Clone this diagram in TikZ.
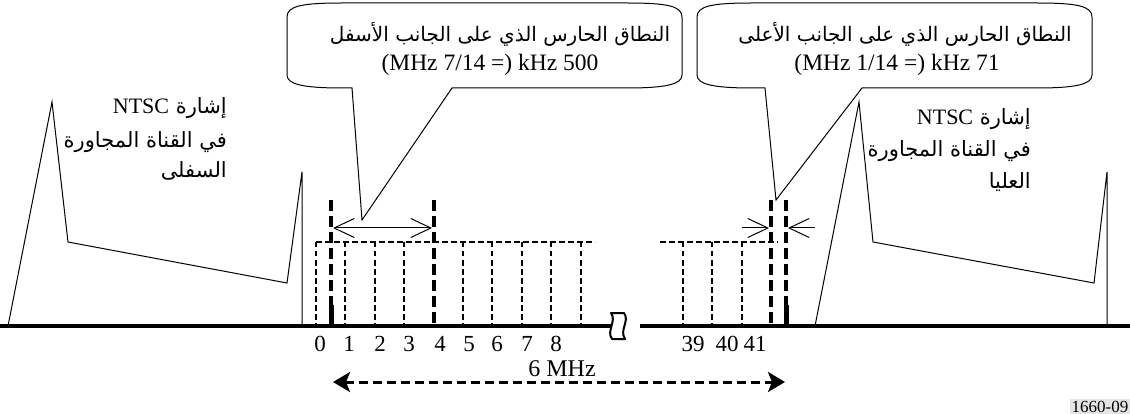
\documentclass[tikz,border=0pt]{standalone}
\usepackage{fontspec}
\setmainfont{Liberation Serif}
\newfontfamily\arabicfont[Script=Arabic]{DejaVu Sans}
\TeXXeTstate=1
\usetikzlibrary{arrows.meta}
\begin{document}
\begin{tikzpicture}[x=1pt,y=-1pt,
  thinline/.style={line width=1pt, line join=miter},
  boxdash/.style={line width=1.2pt, dash pattern=on 5.5pt off 3.5pt},
  guarddash/.style={line width=4pt, dash pattern=on 11pt off 5pt},
  axisline/.style={line width=4pt},
  num/.style={font=\fontsize{23}{26}\selectfont, anchor=base, inner sep=0pt},
  lat/.style={font=\fontsize{23.5}{26}\selectfont, anchor=base, inner sep=0pt},
  artext/.style={font=\arabicfont\fontsize{21}{24}\selectfont, anchor=base east, inner sep=0pt},
  arcall/.style={font=\arabicfont\fontsize{20}{24}\selectfont, anchor=base, inner sep=0pt},
  callout/.style={line width=1pt, fill=white, line join=miter},
  barb/.style={line width=1pt, {Straight Barb[length=20pt,width=19pt]}-{Straight Barb[length=20pt,width=19pt]}},
  barbend/.style={line width=1pt, -{Straight Barb[length=20pt,width=19pt]}},
  mhz/.style={line width=3pt, dash pattern=on 9pt off 5pt, {Stealth[length=17pt,width=20pt,inset=4pt]}-{Stealth[length=17pt,width=20pt,inset=4pt]}}
]
\useasboundingbox (0,0) rectangle (1130,414);

% dashed channel boxes, left group
\draw[boxdash] (316,242) -- (595,242);
\foreach \x in {316,345,375,404,463,492,522,551,581}
  \draw[boxdash] (\x,242) -- (\x,326);
% dashed channel boxes, right group
\draw[boxdash] (660,242) -- (778,242);
\foreach \x in {683,712,742}
  \draw[boxdash] (\x,242) -- (\x,326);

% guard band limits
\coordinate (g1) at (331,200);
\coordinate (g2) at (434,200);
\coordinate (g3) at (771,200);
\coordinate (g4) at (786,200);
\foreach \g in {g1,g2,g3,g4}
  \draw[guarddash] (\g) -- ++(0,126);
\draw[line width=5pt] (331,305) -- (331,326);
\draw[line width=5pt] (786,305) -- (786,326);

% frequency axis
\draw[axisline] (0,326) -- (611,326);
\draw[axisline] (640,326) -- (1130,326);
% break symbol
\draw[line width=2pt, fill=white, line join=round]
  (611,313) -- (624,313) .. controls (630,321) and (619,330) .. (625,339)
  -- (612,339) .. controls (606,331) and (617,321) .. (611,313) -- cycle;

% lower adjacent NTSC signal
\draw[thinline] (8,326) -- (52,102) -- (68,242) -- (287,283) -- (302,172) -- (302,326);
% upper adjacent NTSC signal
\draw[thinline] (815,326) -- (859,102) -- (873,242) -- (1094,283) -- (1107,172) -- (1107,326);

% channel numbers
\node[num] (n0) at (320,351) {0};
\node[num] (n1) at (349,351) {1};
\node[num] (n2) at (380,351) {2};
\node[num] (n3) at (409,351) {3};
\node[num] (n4) at (440,351) {4};
\node[num] (n5) at (469,351) {5};
\node[num] (n6) at (497,351) {6};
\node[num] (n7) at (527,351) {7};
\node[num] (n8) at (556,351) {8};
\node[num] (n39) at (693,351) {39};
\node[num] (n40) at (727,351) {40};
\node[num] (n41) at (755,351) {41};

% 6 MHz
\coordinate (m1) at (333,382);
\coordinate (m2) at (785,382);
\draw[mhz] (m1) -- (m2);
\node[num, font=\fontsize{24}{26}\selectfont] (six) at (562,376) {6 MHz};

% guard band arrows
\coordinate (a1) at (333,228);
\coordinate (a2) at (432,228);
\draw[barb] (a1) -- (a2);
\coordinate (b1) at (742,228);
\coordinate (b2) at (769,228);
\coordinate (b3) at (815,228);
\coordinate (b4) at (788,228);
\draw[barbend] (b1) -- (b2);
\draw[barbend] (b3) -- (b4);

% callouts
\draw[callout] (287,17) .. controls (287,6) and (302,3) .. (342,3) -- (627,3)
  .. controls (667,3) and (682,6) .. (682,17) -- (682,75)
  .. controls (682,84) and (667,88) .. (627,88) -- (452,88) -- (362,220) -- (352,88) -- (342,88)
  .. controls (302,88) and (287,84) .. (287,75) -- cycle;
\draw[callout] (697,17) .. controls (697,6) and (712,3) .. (752,3) -- (1037,3)
  .. controls (1077,3) and (1092,6) .. (1092,17) -- (1092,75)
  .. controls (1092,84) and (1077,88) .. (1037,88) -- (862,88) -- (776,200) -- (765,88) -- (752,88)
  .. controls (712,88) and (697,84) .. (697,75) -- cycle;

\node[arcall] (c1a) at (500,42) {\beginR النطاق الحارس الذي على الجانب الأسفل\endR};
\node[lat] (c1b) at (490,71) {(MHz 7/14 =) kHz 500};
\node[arcall] (c2a) at (905,42) {\beginR النطاق الحارس الذي على الجانب الأعلى\endR};
\node[lat] (c2b) at (897,71) {(MHz 1/14 =) kHz 71};

% NTSC labels
\node[artext] (l1) at (227,114) {\beginR إشارة {\rmfamily\fontsize{22}{24}\selectfont\beginL NTSC\endL}\endR};
\node[artext] (l2) at (227,148) {\beginR في القناة المجاورة\endR};
\node[artext] (l3) at (227,178) {\beginR السفلى\endR};
\node[artext] (r1) at (1031,125) {\beginR إشارة {\rmfamily\fontsize{22}{24}\selectfont\beginL NTSC\endL}\endR};
\node[artext] (r2) at (1031,157) {\beginR في القناة المجاورة\endR};
\node[artext] (r3) at (1031,189) {\beginR العليا\endR};

% figure number
\node[font=\fontsize{17}{20}\selectfont, fill=black!10, inner sep=1.5pt, anchor=south east] (fig) at (1130,414) {1660-09};
\end{tikzpicture}
\end{document}
